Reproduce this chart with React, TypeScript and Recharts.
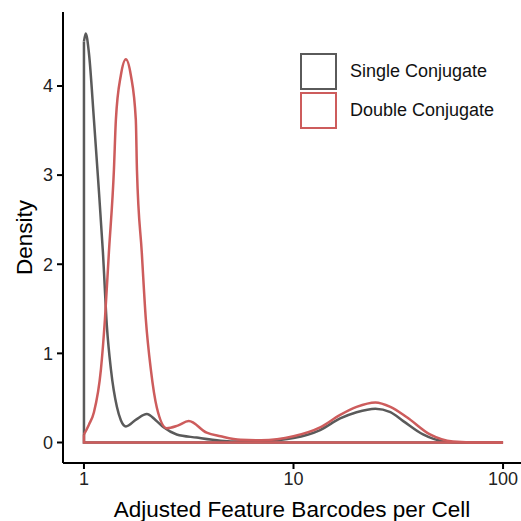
import React from 'react';
import { LineChart, Line, XAxis, YAxis, Legend } from 'recharts';

// Density curves (x on a log scale)
const seriesNames = ['Single Conjugate', 'Double Conjugate'];
const seriesColors = ['#5a5a5a', '#cd5c5c'];

const singleX = [1, 1.02, 1.056, 1.116, 1.166, 1.232, 1.287, 1.345, 1.436, 1.5, 1.585, 1.78, 1.995, 2.2, 2.4, 2.77, 3.45, 4.49, 5.6, 7.0, 10, 13.4, 16.7, 20, 24.6, 29, 33.4, 41.5, 51.6, 65, 100];
const singleDensity = [4.5, 4.59, 4.37, 3.62, 2.98, 2.13, 1.3, 0.82, 0.4, 0.25, 0.18, 0.26, 0.32, 0.25, 0.17, 0.09, 0.055, 0.02, 0.01, 0.015, 0.05, 0.14, 0.27, 0.34, 0.38, 0.34, 0.24, 0.09, 0.015, 0.001, 0];

const doubleX = [1, 1.056, 1.116, 1.205, 1.259, 1.315, 1.39, 1.42, 1.5, 1.585, 1.674, 1.768, 1.79, 1.888, 1.974, 2.085, 2.228, 2.483, 2.8, 3.162, 3.852, 4.487, 5.59, 7.0, 10, 13.4, 16.7, 20, 24.6, 29, 34.9, 44.8, 57.6, 70, 100];
const doubleDensity = [0.09, 0.2, 0.34, 0.82, 1.38, 2.13, 3.06, 3.62, 4.12, 4.3, 4.12, 3.62, 3.06, 2.13, 1.38, 0.82, 0.39, 0.16, 0.19, 0.24, 0.11, 0.07, 0.03, 0.025, 0.07, 0.17, 0.31, 0.4, 0.45, 0.4, 0.28, 0.09, 0.01, 0.001, 0];

const xTicks = [1, 10, 100];
const yTicks = [0, 1, 2, 3, 4];

const toPoints = (xs: number[], ys: number[]) => xs.map((x, i) => ({ x, y: ys[i] }));

// geom_density draws a closed outline: baseline back to the start and up to the first value
const closure = (xs: number[], ys: number[]) => [
  { x: xs[xs.length - 1], y: 0 },
  { x: xs[0], y: 0 },
  { x: xs[0], y: ys[0] },
];

const singleData = toPoints(singleX, singleDensity);
const doubleData = toPoints(doubleX, doubleDensity);
const singleClose = closure(singleX, singleDensity);
const doubleClose = closure(doubleX, doubleDensity);

const font = '"Liberation Sans", Arial, Helvetica, sans-serif';

const renderLegend = () => (
  <div style={{ fontFamily: font }}>
    {seriesNames.map((name, i) => (
      <div key={name} style={{ display: 'flex', alignItems: 'center', height: 39 }}>
        <div
          style={{
            width: 33,
            height: 33,
            border: `2px solid ${seriesColors[i]}`,
            background: '#fff',
          }}
        />
        <span style={{ marginLeft: 13, fontSize: 18, color: '#111' }}>{name}</span>
      </div>
    ))}
  </div>
);

const App = () => {
  return (
    <div style={{ position: 'absolute', left: 0, top: 0, background: '#fff' }}>
      <LineChart width={521} height={521} margin={{ top: 12, right: 0, bottom: 0, left: 0 }}>
        <XAxis
          dataKey="x"
          type="number"
          scale="log"
          domain={[0.7943, 121.8]}
          allowDataOverflow
          ticks={xTicks}
          tickFormatter={(v: number) => String(v)}
          height={58}
          tickSize={6}
          tickMargin={3}
          axisLine={{ stroke: '#000', strokeWidth: 2 }}
          tickLine={{ stroke: '#000', strokeWidth: 2 }}
          tick={{ fill: '#222', fontSize: 18, fontFamily: font }}
          label={{
            value: 'Adjusted Feature Barcodes per Cell',
            position: 'insideBottom',
            offset: 4,
            style: { fill: '#000', fontSize: 22.5, fontFamily: font },
          }}
        />
        <YAxis
          type="number"
          domain={[-0.23, 4.83]}
          allowDataOverflow
          ticks={yTicks}
          width={63}
          tickSize={6}
          tickMargin={4}
          axisLine={{ stroke: '#000', strokeWidth: 2 }}
          tickLine={{ stroke: '#000', strokeWidth: 2 }}
          tick={{ fill: '#222', fontSize: 18, fontFamily: font }}
          label={{
            value: 'Density',
            angle: -90,
            position: 'insideLeft',
            offset: 24,
            style: { fill: '#000', fontSize: 22.5, fontFamily: font, textAnchor: 'middle' },
          }}
        />
        <Legend
          content={renderLegend}
          layout="horizontal"
          verticalAlign="middle"
          align="center"
          wrapperStyle={{ left: 300, top: 52, width: 220 }}
        />
        <Line data={singleData} dataKey="y" type="monotone" stroke={seriesColors[0]} strokeWidth={2.5} dot={false} isAnimationActive={false} />
        <Line data={singleClose} dataKey="y" type="linear" stroke={seriesColors[0]} strokeWidth={2.5} dot={false} isAnimationActive={false} legendType="none" />
        <Line data={doubleData} dataKey="y" type="monotone" stroke={seriesColors[1]} strokeWidth={2.5} dot={false} isAnimationActive={false} />
        <Line data={doubleClose} dataKey="y" type="linear" stroke={seriesColors[1]} strokeWidth={2.5} dot={false} isAnimationActive={false} legendType="none" />
      </LineChart>
    </div>
  );
};

export default App;
